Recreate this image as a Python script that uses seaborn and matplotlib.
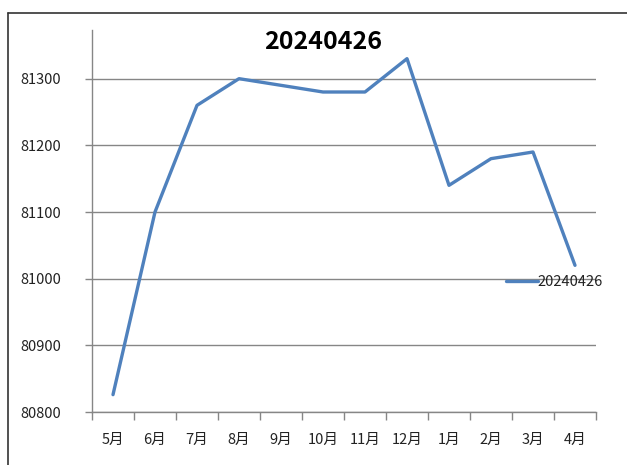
import numpy as np
import pandas as pd
import matplotlib
matplotlib.use("Agg")
import matplotlib.pyplot as plt
from matplotlib.lines import Line2D
from matplotlib.ticker import FixedLocator
import seaborn as sns

# data
months = ["5月", "6月", "7月", "8月", "9月", "10月", "11月", "12月", "1月", "2月", "3月", "4月"]
values = [80826, 81100, 81260, 81300, 81290, 81280, 81280, 81330, 81140, 81180, 81190, 81020]
series_name = "20240426"
y_ticks = [80800, 80900, 81000, 81100, 81200, 81300]

sns.set_style("white")
plt.rcParams['font.family'] = ['Noto Sans CJK SC', 'DejaVu Sans']

df = pd.DataFrame({"month": months, "value": values})

fig = plt.figure(figsize=(6.27, 4.65), dpi=100)
ax = fig.add_axes([92 / 627, 53 / 465, 504 / 627, 382 / 465])

sns.lineplot(data=df, x="month", y="value", ax=ax, color="#4F81BD",
             linewidth=2.4, label=series_name, sort=False)

ax.set_xlim(-0.5, len(months) - 0.5)
ax.set_ylim(80800, 81373)
ax.set_yticks(y_ticks)
ax.set_yticklabels([str(v) for v in y_ticks], fontsize=10.5, color="#222222")
ax.set_xticks(range(len(months)))
ax.set_xticklabels(months, fontsize=10.5, color="#222222")
ax.xaxis.set_minor_locator(FixedLocator(np.arange(-0.5, len(months), 1)))
ax.tick_params(axis="x", which="major", length=0, pad=15)
ax.tick_params(axis="x", which="minor", length=6, width=1, color="#868686", direction="out", bottom=True)
ax.tick_params(axis="y", length=5, width=1, color="#868686", direction="out", left=True, pad=17)
ax.yaxis.grid(True, color="#868686", linewidth=1)
ax.set_xlabel("")
ax.set_ylabel("")

for s in ["top", "right"]:
    ax.spines[s].set_visible(False)
for s in ["left", "bottom"]:
    ax.spines[s].set_color("#868686")
    ax.spines[s].set_linewidth(1)

ax.text((323 - 92) / 504, (465 - 42 - 53) / 382, series_name, transform=ax.transAxes,
        fontsize=18, fontweight="bold", ha="center", va="center", color="black")

leg = ax.legend(loc="center left", bbox_to_anchor=(408 / 504, (465 - 282 - 53) / 382),
                frameon=False, fontsize=10.5, handlelength=2.2, handletextpad=0.0,
                borderaxespad=0)
for t in leg.get_texts():
    t.set_color("#222222")

# cell border lines of the screenshot
fig.add_artist(Line2D([8 / 627, 1], [1 - 13 / 465, 1 - 13 / 465], color="#333333", linewidth=1.2))
fig.add_artist(Line2D([8 / 627, 8 / 627], [0, 1 - 13 / 465], color="#333333", linewidth=1.2))

fig.savefig("out.png", dpi=100)
